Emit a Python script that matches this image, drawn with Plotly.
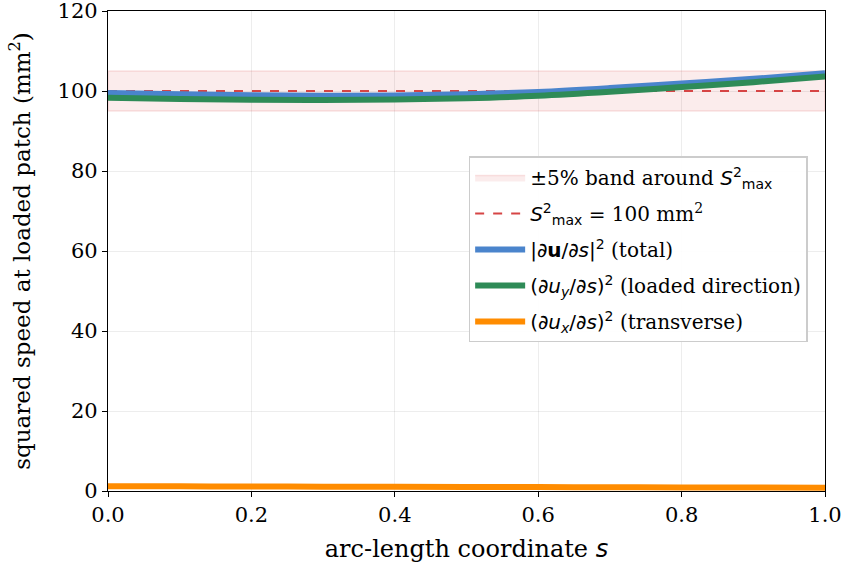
import plotly.graph_objects as go

s_vals = [0.0, 0.1, 0.2, 0.3, 0.4, 0.5, 0.6, 0.7, 0.8, 0.9, 1.0]
loaded = [98.3, 98.0, 97.8, 97.75, 97.85, 98.2, 98.8, 99.8, 101.0, 102.2, 103.6]
transverse = [1.20, 1.17, 1.13, 1.09, 1.05, 1.01, 0.97, 0.93, 0.89, 0.85, 0.81]
total = [a + b for a, b in zip(loaded, transverse)]
s_max_sq = 100.0
band_frac = 0.05
band_lo = s_max_sq * (1 - band_frac)
band_hi = s_max_sq * (1 + band_frac)

x_ticks = [0.0, 0.2, 0.4, 0.6, 0.8, 1.0]
y_ticks = [0, 20, 40, 60, 80, 100, 120]

SERIF = "DejaVu Serif"


def m(t):
    return f"<span style='font-family:DejaVu Sans'>{t}</span>"


smax = m("<i>S</i><sup>2</sup><sub>max</sub>")

fig = go.Figure()
fig.add_trace(go.Scatter(
    x=[s_vals[0], s_vals[-1], s_vals[-1], s_vals[0], s_vals[0]],
    y=[band_lo, band_lo, band_hi, band_hi, band_lo],
    fill="toself", fillcolor="rgba(214,39,40,0.09)",
    line=dict(color="rgba(214,39,40,0.12)", width=1.5),
    mode="lines", name="±5% band around " + smax, legendgroup="a"))
fig.add_trace(go.Scatter(
    x=[s_vals[0], s_vals[-1]], y=[s_max_sq, s_max_sq], mode="lines",
    line=dict(color="#d64545", width=2, dash="dash"),
    name=smax + m(" = ") + "100 mm<sup>2</sup>", legendgroup="b"))
fig.add_trace(go.Scatter(
    x=s_vals, y=total, mode="lines", line=dict(color="#4a84cc", width=6, shape="spline"),
    name=m("|∂<b>u</b>/∂<i>s</i>|<sup>2</sup>") + " (total)", legendgroup="c"))
fig.add_trace(go.Scatter(
    x=s_vals, y=loaded, mode="lines", line=dict(color="#2e8b57", width=6, shape="spline"),
    name=m("(∂<i>u<sub>y</sub></i>/∂<i>s</i>)<sup>2</sup>") + " (loaded direction)", legendgroup="d"))
fig.add_trace(go.Scatter(
    x=s_vals, y=transverse, mode="lines", line=dict(color="#ff8c00", width=6, shape="spline"),
    name=m("(∂<i>u<sub>x</sub></i>/∂<i>s</i>)<sup>2</sup>") + " (transverse)", legendgroup="e"))

axis_common = dict(
    showline=True, linecolor="black", linewidth=1.3, mirror=True,
    ticks="outside", ticklen=5, tickwidth=1.3, tickcolor="black",
    showgrid=True, gridcolor="rgba(0,0,0,0.07)", gridwidth=1,
    zeroline=False, tickfont=dict(family=SERIF, size=21, color="black"),
    automargin=False, ticklabeloverflow="allow",
)

fig.update_layout(
    width=844, height=573,
    margin=dict(l=108, r=19, t=11, b=82),
    plot_bgcolor="white", paper_bgcolor="white",
    font=dict(family=SERIF, color="black"),
    xaxis=dict(range=[0, 1], tickvals=x_ticks, ticktext=[f"{v:.1f}" for v in x_ticks],
               title=dict(text="arc-length coordinate " + m("<i>s</i>"), font=dict(family=SERIF, size=24), standoff=13),
               **axis_common),
    yaxis=dict(range=[0, 120], tickvals=y_ticks,
               title=dict(text="squared speed at loaded patch (mm<sup>2</sup>)", font=dict(family=SERIF, size=23), standoff=20),
               **axis_common),
    legend=dict(x=0.503, y=0.697, xanchor="left", yanchor="top",
                bgcolor="rgba(255,255,255,0.9)", bordercolor="#cccccc", borderwidth=1.5,
                font=dict(family=SERIF, size=20, color="black"),
                tracegroupgap=7, itemwidth=50),
    showlegend=True,
)

fig.write_html("out.html")
